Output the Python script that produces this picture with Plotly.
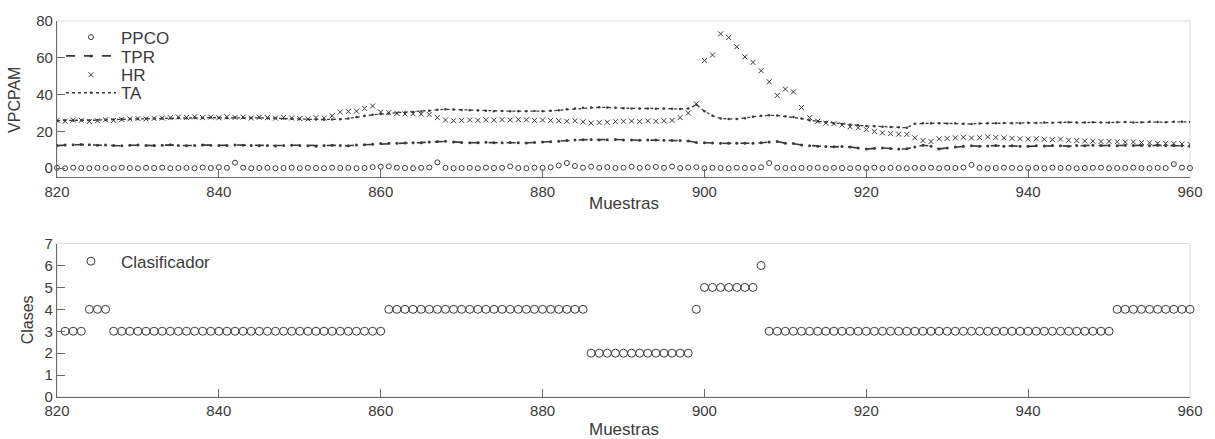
import plotly.graph_objects as go

# ---------------- data ----------------
muestras = list(range(820, 961))

ppco = [0.2, 0.0, 0.3, 0.1, 0.0, 0.2, 0.1, 0.0, 0.3, 0.1,
        0.0, 0.2, 0.1, 0.3, 0.0, 0.1, 0.2, 0.0, 0.4, 0.1,
        0.5, 0.2, 3.0, 0.3, 0.0, 0.1, 0.2, 0.0, 0.1, 0.3,
        0.0, 0.2, 0.1, 0.0, 0.3, 0.1, 0.2, 0.0, 0.1, 0.6,
        0.8, 1.0, 0.3, 0.1, 0.0, 0.2, 0.4, 3.2, 0.2, 0.0,
        0.1, 0.2, 0.0, 0.3, 0.1, 0.2, 1.0, 0.1, 0.0, 0.3,
        0.2, 0.5, 1.5, 2.8, 1.2, 0.3, 0.8, 0.2, 0.6, 0.1,
        0.3, 0.8, 0.2, 0.5, 0.7, 0.2, 0.9, 0.1, 0.4, 0.6,
        0.0, 0.2, 0.1, 0.0, 0.3, 0.1, 0.2, 0.5, 2.8, 0.3,
        0.1, 0.0, 0.2, 0.1, 0.3, 0.0, 0.2, 0.1, 0.0, 0.2,
        0.1, 0.3, 0.0, 0.2, 0.1, 0.0, 0.2, 0.1, 0.3, 0.0,
        0.2, 0.1, 0.4, 1.8, 0.2, 0.0, 0.1, 0.3, 0.2, 0.0,
        0.1, 0.2, 0.0, 0.3, 0.1, 0.2, 0.0, 0.1, 0.2, 0.3,
        0.0, 0.1, 0.2, 0.3, 0.1, 0.0, 0.2, 0.1, 2.2, 0.3, 0.1]

tpr = [12.3, 12.6, 12.8, 12.9, 12.7, 12.5, 12.6, 12.4, 12.2, 12.5,
       12.6, 12.4, 12.3, 12.5, 12.7, 12.4, 12.2, 12.3, 12.6, 12.5,
       12.3, 12.4, 12.6, 12.5, 12.3, 12.2, 12.4, 12.1, 12.3, 12.5,
       12.4, 12.2, 12.0, 12.3, 12.5, 12.4, 12.2, 12.6, 12.8, 13.0,
       13.4, 13.6, 13.5, 13.7, 13.8, 13.9, 14.2, 14.5, 14.6, 14.3,
       14.0, 13.8, 13.9, 14.1, 13.9, 13.8, 14.0, 13.8, 13.7, 14.0,
       14.2, 14.4, 14.6, 15.0, 15.3, 15.5, 15.6, 15.4, 15.5, 15.6,
       15.4, 15.3, 15.2, 15.3, 15.4, 15.2, 15.1, 15.0, 14.8, 14.0,
       13.8, 13.7, 13.6, 13.5, 13.6, 13.5, 13.6, 13.8, 14.3, 14.5,
       13.6, 13.4, 12.6, 12.2, 12.0, 11.8, 11.6, 11.8, 11.5, 11.0,
       10.4, 10.8, 11.0, 10.7, 10.4, 10.6, 11.5, 12.5, 12.0, 10.5,
       11.0, 11.5, 12.0, 12.2, 11.9, 12.1, 12.3, 12.0, 12.2, 11.9,
       12.0, 12.2, 12.1, 12.4, 12.2, 12.0, 12.3, 12.2, 12.5, 12.3,
       12.4, 12.2, 12.5, 12.3, 12.4, 12.2, 12.5, 12.3, 12.4, 12.2, 12.0]

hr = [26.0, 25.5, 26.2, 26.0, 25.4, 25.8, 26.3, 26.0, 26.5, 26.8,
      27.0, 26.8, 27.1, 27.3, 27.5, 27.8, 27.6, 27.9, 27.5, 27.8,
      27.4, 27.9, 27.6, 27.8, 27.3, 27.7, 27.5, 27.2, 27.6, 27.3,
      27.0, 26.8, 27.5, 27.2, 28.5, 30.5, 30.8, 31.0, 32.5, 33.8,
      30.5, 30.2, 29.8, 29.5, 29.6, 29.4, 29.2, 27.5, 26.2, 25.8,
      26.0, 26.2, 26.0, 26.3, 26.1, 26.4, 26.2, 26.5, 26.3, 26.0,
      26.2, 26.0, 25.8, 25.5, 25.8, 25.2, 24.5, 24.8, 25.0, 25.3,
      25.5, 25.6, 25.4, 25.7, 25.5, 25.8, 26.0, 27.5, 30.0, 35.0,
      58.5, 61.5, 73.0, 71.0, 66.0, 60.5, 57.5, 53.0, 47.0, 39.5,
      43.0, 41.5, 33.0, 27.5, 25.5, 24.5, 24.2, 23.5, 22.5, 22.0,
      21.0, 20.0, 19.2, 18.8, 18.5, 18.4, 16.5, 15.0, 14.5, 16.0,
      16.2, 16.5, 16.8, 16.4, 16.6, 17.0, 16.7, 16.5, 16.2, 16.0,
      15.8, 16.0, 15.7, 15.5, 15.8, 15.2, 15.0, 14.8, 14.7, 14.5,
      14.6, 14.4, 14.2, 14.3, 14.0, 13.8, 13.6, 13.5, 13.4, 13.2, 13.0]

ta = [25.8, 26.0, 25.9, 26.1, 26.0, 26.2, 26.3, 26.5, 26.6, 26.7,
      26.8, 26.9, 27.0, 27.0, 27.2, 27.3, 27.2, 27.4, 27.3, 27.5,
      27.4, 27.3, 27.5, 27.4, 27.3, 27.4, 27.2, 27.1, 27.0, 26.9,
      26.8, 26.6, 26.5, 26.4, 26.5, 26.6, 27.0, 27.8, 28.5, 29.0,
      29.5, 29.8, 30.0, 30.3, 30.5, 30.8, 31.2, 31.8, 32.0, 31.9,
      31.7, 31.5, 31.3, 31.2, 31.0, 31.1, 31.0, 30.9, 31.0, 31.1,
      31.0, 31.2, 31.5, 32.0, 32.5, 32.8, 33.0, 33.1, 33.0, 32.8,
      32.6, 32.5, 32.4, 32.5, 32.3, 32.4, 32.3, 32.2, 32.4, 34.5,
      31.0, 28.5, 27.0, 26.7, 26.8, 27.2, 28.0, 28.5, 28.8, 28.6,
      28.2, 27.8, 27.0, 26.0, 25.5, 25.0, 24.5, 24.0, 23.6, 23.3,
      23.0, 22.8, 22.6, 22.4, 22.2, 22.0, 24.2, 24.5, 24.4, 24.5,
      24.3, 24.4, 24.2, 24.0, 24.3, 24.4, 24.5, 24.6, 24.4, 24.5,
      24.7, 24.6, 24.8, 24.7, 24.9, 25.0, 24.8, 24.9, 25.0, 24.9,
      24.8, 25.0, 25.1, 24.9, 25.0, 25.2, 25.1, 25.0, 25.3, 25.2, 25.1]

muestras_clas = list(range(821, 961))
clasificador = [3, 3, 3,
                4, 4, 4,
                3, 3, 3, 3, 3, 3, 3, 3, 3, 3, 3, 3, 3, 3, 3, 3, 3,
                3, 3, 3, 3, 3, 3, 3, 3, 3, 3, 3, 3, 3, 3, 3, 3, 3,
                4, 4, 4, 4, 4, 4, 4, 4, 4, 4, 4, 4, 4, 4, 4, 4, 4,
                4, 4, 4, 4, 4, 4, 4, 4,
                2, 2, 2, 2, 2, 2, 2, 2, 2, 2, 2, 2, 2,
                4,
                5, 5, 5, 5, 5, 5, 5,
                6,
                3, 3, 3, 3, 3, 3, 3, 3, 3, 3, 3, 3, 3, 3, 3, 3, 3, 3,
                3, 3, 3, 3, 3, 3, 3, 3, 3, 3, 3, 3, 3, 3, 3, 3, 3, 3,
                3, 3, 3, 3, 3, 3, 3,
                4, 4, 4, 4, 4, 4, 4, 4, 4, 4]

x_ticks = [820, 840, 860, 880, 900, 920, 940, 960]
y1_ticks = [0, 20, 40, 60, 80]
y2_ticks = [0, 1, 2, 3, 4, 5, 6, 7]

# ---------------- style ----------------
INK = "#3a3a3a"
AX = "#6a6a6a"
FONT = "Liberation Sans, Arial, sans-serif"

fig = go.Figure()

fig.add_trace(go.Scatter(x=muestras, y=ppco, name="PPCO", mode="markers",
                         marker=dict(symbol="circle-open", size=5, color=INK, line=dict(width=1)),
                         cliponaxis=False, xaxis="x", yaxis="y", legend="legend"))
fig.add_trace(go.Scatter(x=muestras, y=tpr, name="TPR", mode="lines+markers",
                         line=dict(color=INK, width=1.6, dash="dash"),
                         marker=dict(symbol="circle", size=3, color=INK),
                         xaxis="x", yaxis="y", legend="legend3"))
fig.add_trace(go.Scatter(x=muestras, y=hr, name="HR", mode="markers",
                         marker=dict(symbol="x-thin-open", size=5, color=INK, line=dict(width=1, color=INK)),
                         xaxis="x", yaxis="y", legend="legend4"))
fig.add_trace(go.Scatter(x=muestras, y=ta, name="TA", mode="lines+markers",
                         line=dict(color=INK, width=1.3, dash="dot"),
                         marker=dict(symbol="circle", size=2.5, color=INK),
                         xaxis="x", yaxis="y", legend="legend5"))

fig.add_trace(go.Scatter(x=muestras_clas, y=clasificador, name="Clasificador", mode="markers",
                         marker=dict(symbol="circle-open", size=8, color=INK, line=dict(width=1)),
                         cliponaxis=False, xaxis="x2", yaxis="y2", legend="legend2"))

axis_common = dict(showgrid=False, zeroline=False, showline=True, linecolor=AX, linewidth=1.2,
                   ticks="inside", ticklen=8, tickcolor=AX, tickwidth=1,
                   tickfont=dict(family=FONT, size=15, color=INK), mirror=False)


def leg(y):
    return dict(x=0.0035, y=y, xanchor="left", yanchor="middle", bgcolor="rgba(0,0,0,0)",
                font=dict(family=FONT, size=17, color=INK), itemwidth=50)


fig.update_layout(
    width=1215, height=439,
    paper_bgcolor="white", plot_bgcolor="white",
    margin=dict(l=57, r=15, t=17, b=42),
    font=dict(family=FONT, color=INK),
    xaxis=dict(domain=[0, 1], range=[820, 960], tickvals=x_ticks, anchor="y", **axis_common),
    yaxis=dict(domain=[0.584, 1], range=[-5, 80], tickvals=y1_ticks, anchor="x", **axis_common),
    xaxis2=dict(domain=[0, 1], range=[820, 960], tickvals=x_ticks, anchor="y2", **axis_common),
    yaxis2=dict(domain=[0, 0.408], range=[0, 7], tickvals=y2_ticks, anchor="x2", **axis_common),
    legend=leg(0.956),
    legend3=leg(0.906),
    legend4=leg(0.856),
    legend5=leg(0.808),
    legend2=leg(0.360),
    showlegend=True,
)

# faint box borders (top/right)
for xr, yr in (("x domain", "y domain"), ("x2 domain", "y2 domain")):
    fig.add_shape(type="rect", xref=xr, yref=yr, x0=0, x1=1, y0=0, y1=1,
                  line=dict(color="#dcdcdc", width=1), layer="below")

# axis titles
fig.add_annotation(text="Muestras", xref="paper", yref="paper", x=0.5, y=0.584,
                   yshift=-15, showarrow=False, yanchor="top", xanchor="center",
                   font=dict(family=FONT, size=17, color=INK))
fig.add_annotation(text="Muestras", xref="paper", yref="paper", x=0.5, y=0.0,
                   yshift=-21, showarrow=False, yanchor="top", xanchor="center",
                   font=dict(family=FONT, size=17, color=INK))
fig.add_annotation(text="VPCPAM", xref="paper", yref="paper", x=0, xshift=-42,
                   y=0.79, showarrow=False, textangle=-90, xanchor="center", yanchor="middle",
                   font=dict(family=FONT, size=16, color=INK))
fig.add_annotation(text="Clases", xref="paper", yref="paper", x=0, xshift=-30,
                   y=0.204, showarrow=False, textangle=-90, xanchor="center", yanchor="middle",
                   font=dict(family=FONT, size=16, color=INK))

fig.write_html("out.html", config={"displayModeBar": False},
               post_script="document.body.style.margin='0';")
